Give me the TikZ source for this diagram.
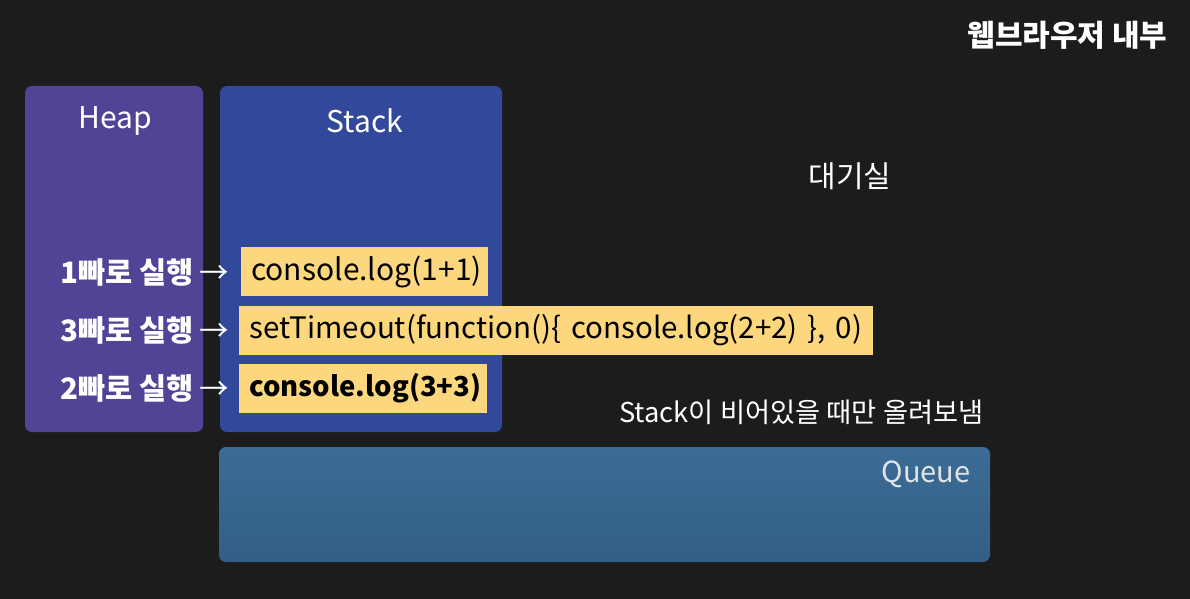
\documentclass[tikz,border=0pt]{standalone}
\usepackage{fontspec}
\setmainfont{Noto Sans CJK KR}
\begin{document}
\begin{tikzpicture}[x=1pt,y=-1pt,
  panel/.style={rounded corners=7pt},
  codebox/.style={fill=codeyellow,anchor=west,inner xsep=10pt,inner ysep=0pt,minimum height=49pt,align=left,text=black,font=\fontsize{30}{34}\selectfont},
  lbl/.style={text=white,anchor=east,font=\fontsize{29.5}{33}\selectfont},
  wtxt/.style={text=white,font=\fontsize{27}{30}\selectfont}]
\definecolor{bg}{RGB}{28,28,28}
\definecolor{heapc}{RGB}{80,68,150}
\definecolor{stackc}{RGB}{50,72,154}
\definecolor{codeyellow}{RGB}{253,215,125}
\definecolor{queuetop}{RGB}{60,108,150}
\definecolor{queuebot}{RGB}{50,94,134}
\definecolor{queuetxt}{RGB}{225,228,232}
\fill[bg] (0,0) rectangle (1190,599);
\useasboundingbox (0,0) rectangle (1190,599);
% panels
\fill[heapc,panel] (25,86) rectangle (203,432);
\fill[stackc,panel] (220,86) rectangle (502,432);
\shade[panel,top color=queuetop,bottom color=queuebot] (219,447) rectangle (990,562);
% titles
\node[wtxt,font=\fontsize{30}{34}\selectfont] (heap) at (115,121) {Heap};
\node[wtxt,font=\fontsize{30}{34}\selectfont] (stack) at (365,121) {Stack};
\node[text=queuetxt,anchor=east,font=\fontsize{29}{32}\selectfont] (queue) at (974,474) {Queue};
\node[wtxt,anchor=east,font=\bfseries\fontsize{30}{34}\selectfont] (title) at (1171,35) {웹브라우저 내부};
\node[wtxt,anchor=west,font=\fontsize{30}{34}\selectfont] (wait) at (805,176) {대기실};
\node[wtxt,anchor=east,font=\fontsize{27.3}{30}\selectfont] (note) at (987,412) {Stack이 비어있을 때만 올려보냄};
% code boxes
\node[codebox,text width=227pt] (c1) at (241,271.5) {\mbox{console.log(1+1)}};
\node[codebox,text width=614pt,font=\fontsize{29.5}{34}\selectfont] (c2) at (239,330) {\mbox{setTimeout(function()\{ console.log(2+2) \}, 0)}};
\node[codebox,text width=228pt,font=\bfseries\fontsize{27.5}{34}\selectfont] (c3) at (239,388.5) {\mbox{console.log(3+3)}};
% labels
\node[lbl] (l1) at (233,272) {{\bfseries 1빠로 실행} →};
\node[lbl] (l2) at (233,330) {{\bfseries 3빠로 실행} →};
\node[lbl] (l3) at (233,388) {{\bfseries 2빠로 실행} →};
\end{tikzpicture}
\end{document}
